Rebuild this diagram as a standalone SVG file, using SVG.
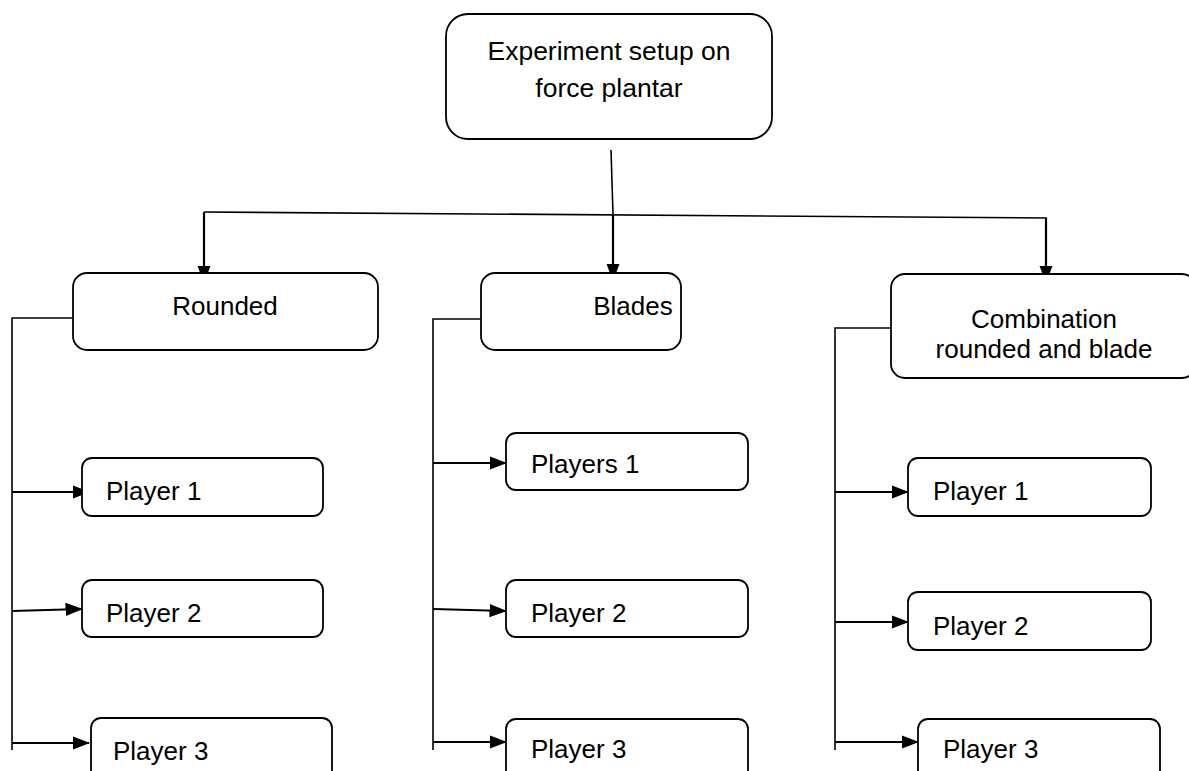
<svg xmlns="http://www.w3.org/2000/svg" width="1189" height="771" viewBox="0 0 1189 771">
<style>
.box{fill:#fff;stroke:#000;stroke-width:1.8}
.t{font-family:"Liberation Sans",Arial,sans-serif;font-size:26px;fill:#000}
.c{text-anchor:middle}
.ln{fill:none;stroke:#000;stroke-width:1.6}
.ar{fill:none;stroke:#000;stroke-width:2.2;marker-end:url(#ah)}
</style>
<defs>
<marker id="ah" markerWidth="8" markerHeight="6" refX="7.5" refY="3" orient="auto" markerUnits="strokeWidth">
<path d="M0,0 L8,3 L0,6 Z" fill="#000"/>
</marker>
</defs>
<rect width="1189" height="771" fill="#fff"/>
<g id="connectors">
<line class="ln" x1="611" y1="150" x2="613" y2="214"/>
<line class="ln" x1="204" y1="212" x2="1047" y2="218"/>
<line class="ar" x1="204" y1="212" x2="204" y2="282"/>
<line class="ar" x1="613" y1="215" x2="613" y2="280"/>
<line class="ar" x1="1046" y1="218" x2="1046" y2="282"/>
<polyline class="ln" points="73,318 12,318 12,750"/>
<polyline class="ln" points="481,319 433,319 433,750"/>
<polyline class="ln" points="891,328 835,328 835,750"/>
<line class="ar" x1="12" y1="492" x2="89" y2="492"/>
<line class="ar" x1="12" y1="611" x2="82" y2="609"/>
<line class="ar" x1="12" y1="743" x2="89" y2="743"/>
<line class="ar" x1="433" y1="463" x2="506" y2="463"/>
<line class="ar" x1="433" y1="609" x2="506" y2="611"/>
<line class="ar" x1="433" y1="742" x2="506" y2="742"/>
<line class="ar" x1="835" y1="492" x2="908" y2="492"/>
<line class="ar" x1="835" y1="622" x2="908" y2="622"/>
<line class="ar" x1="835" y1="742" x2="918" y2="742"/>
</g>
<g id="top">
<rect class="box" x="446" y="14" width="326" height="125" rx="22"/>
<text class="t c" x="609" y="60" style="font-size:26.5px">Experiment setup on</text>
<text class="t c" x="609" y="97" style="font-size:26.5px">force plantar</text>
</g>
<g id="rounded">
<rect class="box" x="73" y="273" width="305" height="77" rx="14"/>
<text class="t c" x="225" y="315">Rounded</text>
</g>
<g id="blades">
<rect class="box" x="481" y="273" width="200" height="77" rx="14"/>
<text class="t c" x="633" y="315">Blades</text>
</g>
<g id="combination">
<rect class="box" x="891" y="274" width="305" height="104" rx="14"/>
<text class="t c" x="1044" y="328">Combination</text>
<text class="t c" x="1044" y="358">rounded and blade</text>
</g>
<g id="r-p1">
<rect class="box" x="82" y="458" width="241" height="58" rx="10"/>
<text class="t" x="106" y="500">Player 1</text>
</g>
<g id="r-p2">
<rect class="box" x="82" y="580" width="241" height="57" rx="10"/>
<text class="t" x="106" y="622">Player 2</text>
</g>
<g id="r-p3">
<rect class="box" x="91" y="718" width="241" height="70" rx="10"/>
<text class="t" x="113" y="760">Player 3</text>
</g>
<g id="b-p1">
<rect class="box" x="506" y="433" width="242" height="57" rx="10"/>
<text class="t" x="531" y="473">Players 1</text>
</g>
<g id="b-p2">
<rect class="box" x="506" y="580" width="242" height="57" rx="10"/>
<text class="t" x="531" y="622">Player 2</text>
</g>
<g id="b-p3">
<rect class="box" x="506" y="719" width="242" height="70" rx="10"/>
<text class="t" x="531" y="758">Player 3</text>
</g>
<g id="c-p1">
<rect class="box" x="908" y="458" width="243" height="58" rx="10"/>
<text class="t" x="933" y="500">Player 1</text>
</g>
<g id="c-p2">
<rect class="box" x="908" y="592" width="243" height="58" rx="10"/>
<text class="t" x="933" y="635">Player 2</text>
</g>
<g id="c-p3">
<rect class="box" x="918" y="719" width="242" height="70" rx="10"/>
<text class="t" x="943" y="758">Player 3</text>
</g>
</svg>
